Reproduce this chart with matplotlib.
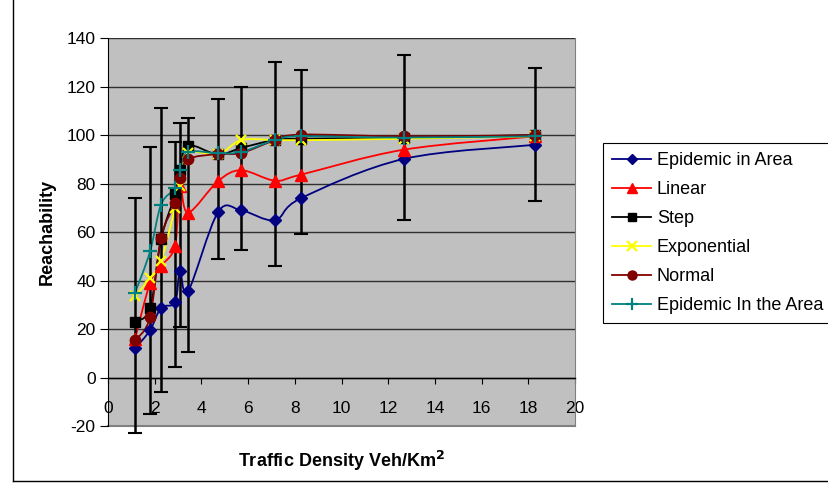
import matplotlib
matplotlib.use('Agg')
import matplotlib.pyplot as plt
from matplotlib.path import Path
from matplotlib.patches import PathPatch
from matplotlib.lines import Line2D

plt.rcParams['font.family'] = ['Liberation Sans', 'DejaVu Sans']
plt.rcParams['axes.unicode_minus'] = False

density = [1.16, 1.80, 2.27, 2.87, 3.08, 3.43, 4.71, 5.70, 7.15, 8.27, 12.68, 18.29]

epidemic_area = [12, 19.5, 28.7, 31, 43.8, 35.6, 68.2, 69, 64.9, 74, 90.2, 96]
linear = [16, 39, 46, 54.4, 79, 68, 81, 85.5, 81.2, 83.7, 94, 99.5]
step = [23, 28.6, 57, 75.5, 85.8, 95.7, 92, 94.7, 98, 98.5, 99, 100]
exponential = [33.5, 41, 48, 70, 79, 92.5, 92, 97.9, 98, 97.9, 98.5, 99.5]
normal = [15.4, 25, 57.6, 72, 82.3, 90, 92.2, 92.6, 97.9, 100.2, 99.5, 100]
epidemic_in_the_area = [35, 52, 71.3, 78.2, 85.8, 93, 92.5, 93, 98, 99.5, 99, 99.5]

err_low = [-23, -15, -6, 4.5, 21, 10.7, 49, 52.5, 46, 59, 65, 73]
err_high = [74, 95, 111, 97, 105, 107, 115, 120, 130, 127, 133, 127.5]

series = [
  ('Epidemic in Area', epidemic_area, '#000080', 'D', 6.5),
  ('Linear', linear, '#FF0000', '^', 8.5),
  ('Step', step, '#000000', 's', 7),
  ('Exponential', exponential, '#FFFF00', 'x', 7.5),
  ('Normal', normal, '#800000', 'o', 7.5),
  ('Epidemic In the Area', epidemic_in_the_area, '#008080', '+', 9.5),
]

def smooth_path(xs, ys):
  # catmull-rom style bezier through the points, like excel's smoothed line
  pts = list(zip(xs, ys))
  verts = [pts[0]]
  codes = [Path.MOVETO]
  n = len(pts)
  for i in range(n - 1):
    p0 = pts[i - 1] if i > 0 else pts[i]
    p1 = pts[i]
    p2 = pts[i + 1]
    p3 = pts[i + 2] if i + 2 < n else pts[i + 1]
    c1 = (p1[0] + (p2[0] - p0[0]) / 6, p1[1] + (p2[1] - p0[1]) / 6)
    c2 = (p2[0] - (p3[0] - p1[0]) / 6, p2[1] - (p3[1] - p1[1]) / 6)
    verts += [c1, c2, p2]
    codes += [Path.CURVE4] * 3
  return Path(verts, codes)

fig = plt.figure(figsize=(8.29, 4.86), dpi=100)
ax = fig.add_axes([0.1303, 0.1235, 0.5633, 0.798])
ax.set_facecolor('#C0C0C0')

for y in range(-20, 141, 20):
  ax.axhline(y, color='#303030', linewidth=1.0, zorder=1)

handles = []
for name, vals, color, marker, ms in series:
  mew = 1.6 if marker in 'x+' else 1
  ax.add_patch(PathPatch(smooth_path(density, vals), facecolor='none', edgecolor=color, linewidth=1.3, zorder=2))
  ax.plot(density, vals, linestyle='none', marker=marker, markersize=ms, color=color,
          markeredgecolor=color, markeredgewidth=mew, zorder=4)
  handles.append(Line2D([0], [0], color=color, linewidth=1.3, marker=marker,
                        markersize=ms - 1, markeredgewidth=mew))

mid = [(lo + hi) / 2 for lo, hi in zip(err_low, err_high)]
half = [(hi - lo) / 2 for lo, hi in zip(err_low, err_high)]
eb = ax.errorbar(density, mid, yerr=half, fmt='none', ecolor='black', elinewidth=1.8,
                 capsize=5, capthick=1.5, zorder=3)
for artist in eb.lines[1] + eb.lines[2]:
  artist.set_clip_on(False)

ax.set_xlim(0, 20)
ax.set_ylim(-20, 140)
ax.set_xticks(range(0, 21, 2))
ax.set_yticks(range(-20, 141, 20))

ax.spines['bottom'].set_position(('data', 0))
ax.spines['bottom'].set_color('black')
ax.spines['bottom'].set_linewidth(1.0)
ax.spines['left'].set_color('black')
ax.spines['top'].set_visible(False)
ax.spines['right'].set_color('#808080')
ax.tick_params(axis='x', direction='out', length=4, pad=13, labelsize=12.5, color='black')
ax.tick_params(axis='y', direction='out', length=6, pad=3, labelsize=12.5, color='black')

# gray lower border of the plot area
ax.plot([0, 20], [-20, -20], color='#808080', linewidth=1.5, clip_on=False, zorder=1)

ax.set_ylabel('Reachability', fontsize=13, fontweight='bold', labelpad=8)
fig.text(0.412, 0.051, 'Traffic Density Veh/Km$^\\mathbf{2}$', fontsize=13, fontweight='bold',
         ha='center', va='center')

leg = fig.legend(handles, [s[0] for s in series], loc='upper left', bbox_to_anchor=(0.727, 0.706),
                 fontsize=13, frameon=True, fancybox=False, edgecolor='black', framealpha=1,
                 borderaxespad=0, handlelength=2.2, handletextpad=0.3, labelspacing=0.67,
                 borderpad=0.5)
leg.get_frame().set_linewidth(0.8)

fig.add_artist(Line2D([0.0157, 0.0157], [0.0103, 1.0], color='black', linewidth=1.0))
fig.add_artist(Line2D([0.0157, 1.0], [0.0103, 0.0103], color='black', linewidth=1.0))

fig.savefig('out.png', dpi=100)
